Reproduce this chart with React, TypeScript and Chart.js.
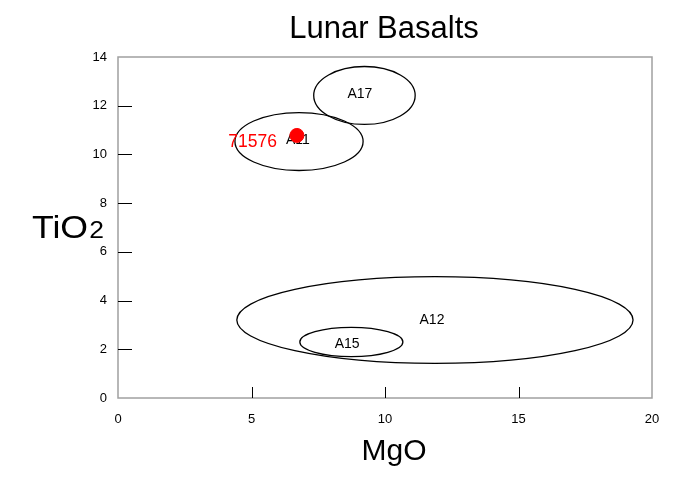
import React, { useEffect, useRef } from "react";
import { Chart, registerables } from "chart.js";

Chart.register(...registerables);

// ---- data ----
const chartTitle = "Lunar Basalts";
const xTitle = "MgO";
const yTitleMain = "TiO";
const yTitleSub = "2";

const xTicksMin = 0;
const xTicksMax = 20;
const xStep = 5;
const yTicksMin = 0;
const yTicksMax = 14;
const yStep = 2;

// fields (ellipses): name, centre MgO, centre TiO2, half-width MgO, half-height TiO2
const fieldNames = ["A17", "A11", "A12", "A15"];
const fieldCx = [9.23, 6.78, 11.87, 8.74];
const fieldCy = [12.42, 10.53, 3.2, 2.3];
const fieldRx = [1.9, 2.4, 7.42, 1.93];
const fieldRy = [1.19, 1.19, 1.78, 0.6];
const fieldLabelX = [9.06, 6.74, 11.76, 8.58];
const fieldLabelY = [12.46, 10.57, 3.2, 2.21];

// sample
const sampleNames = ["71576"];
const sampleMgO = [6.7];
const sampleTiO2 = [10.78];

const FONT = "'Liberation Sans', Arial, Helvetica, sans-serif";

const decorPlugin = {
  id: "decor",
  beforeDatasetsDraw(chart: any) {
    const { ctx, chartArea, scales } = chart;
    const xs = scales.x;
    const ys = scales.y;
    ctx.save();
    // frame
    ctx.strokeStyle = "#a0a0a0";
    ctx.lineWidth = 1.5;
    ctx.strokeRect(chartArea.left, chartArea.top, chartArea.right - chartArea.left, chartArea.bottom - chartArea.top);
    // inward ticks
    ctx.strokeStyle = "#000";
    ctx.lineWidth = 1;
    xs.ticks.forEach((t: any) => {
      if (t.value <= xTicksMin || t.value >= xTicksMax) return;
      const px = Math.round(xs.getPixelForValue(t.value)) + 0.5;
      ctx.beginPath();
      ctx.moveTo(px, chartArea.bottom);
      ctx.lineTo(px, chartArea.bottom - 11);
      ctx.stroke();
    });
    ys.ticks.forEach((t: any) => {
      if (t.value <= yTicksMin || t.value >= yTicksMax) return;
      const py = Math.round(ys.getPixelForValue(t.value)) + 0.5;
      ctx.beginPath();
      ctx.moveTo(chartArea.left, py);
      ctx.lineTo(chartArea.left + 14, py);
      ctx.stroke();
    });
    // ellipses
    ctx.strokeStyle = "#000";
    ctx.lineWidth = 1.3;
    for (let i = 0; i < fieldNames.length; i++) {
      const cx = xs.getPixelForValue(fieldCx[i]);
      const cy = ys.getPixelForValue(fieldCy[i]);
      const rx = Math.abs(xs.getPixelForValue(fieldCx[i] + fieldRx[i]) - cx);
      const ry = Math.abs(ys.getPixelForValue(fieldCy[i] + fieldRy[i]) - cy);
      ctx.beginPath();
      ctx.ellipse(cx, cy, rx, ry, 0, 0, Math.PI * 2);
      ctx.stroke();
    }
    // field labels
    ctx.fillStyle = "#000";
    ctx.font = `14px ${FONT}`;
    ctx.textAlign = "center";
    ctx.textBaseline = "middle";
    for (let i = 0; i < fieldNames.length; i++) {
      ctx.fillText(fieldNames[i], xs.getPixelForValue(fieldLabelX[i]), ys.getPixelForValue(fieldLabelY[i]));
    }
    // sample labels
    ctx.fillStyle = "#ff0000";
    ctx.font = `17.5px ${FONT}`;
    ctx.textAlign = "right";
    ctx.textBaseline = "alphabetic";
    for (let i = 0; i < sampleNames.length; i++) {
      const px = xs.getPixelForValue(sampleMgO[i]);
      const py = ys.getPixelForValue(sampleTiO2[i]);
      ctx.fillText(sampleNames[i], px - 20, py + 12);
    }
    ctx.restore();
  },
  afterDraw(chart: any) {
    const { ctx } = chart;
    ctx.save();
    ctx.fillStyle = "#000";
    ctx.textBaseline = "middle";
    ctx.textAlign = "center";
    ctx.font = `31px ${FONT}`;
    ctx.fillText(chartTitle, 376, 21);
    ctx.font = `30px ${FONT}`;
    ctx.fillText(xTitle, 386, 444);
    // y title, horizontal, slightly widened
    ctx.textAlign = "left";
    ctx.textBaseline = "alphabetic";
    const x0 = 24;
    const base = 230;
    ctx.translate(x0, base);
    ctx.scale(1.15, 1);
    ctx.font = `31px ${FONT}`;
    ctx.fillText(yTitleMain, 0, 0);
    const w = ctx.measureText(yTitleMain).width;
    ctx.font = `23px ${FONT}`;
    ctx.fillText(yTitleSub, w + 1, 0);
    ctx.restore();
  },
};

export default function App() {
  const ref = useRef<HTMLCanvasElement | null>(null);
  useEffect(() => {
    if (!ref.current) return;
    const chart = new Chart(ref.current, {
      type: "scatter",
      data: {
        datasets: [
          {
            label: "samples",
            data: sampleMgO.map((x, i) => ({ x, y: sampleTiO2[i] })),
            backgroundColor: "#ff0000",
            borderColor: "#ff0000",
            pointRadius: 7,
            pointHoverRadius: 7,
          },
        ],
      },
      options: {
        responsive: false,
        animation: false,
        layout: { padding: { left: 0, top: 49, right: 28, bottom: 47 } },
        plugins: {
          legend: { display: false },
          tooltip: { enabled: false },
          title: { display: false },
        },
        scales: {
          x: {
            type: "linear",
            min: xTicksMin,
            max: xTicksMax,
            ticks: { stepSize: xStep, padding: 14, color: "#000", font: { family: FONT, size: 13 }, maxRotation: 0 },
            grid: { display: false, drawTicks: false },
            border: { display: false },
            afterFit: (s: any) => { s.height = 40; },
          },
          y: {
            type: "linear",
            min: yTicksMin,
            max: yTicksMax,
            ticks: { stepSize: yStep, padding: 11, color: "#000", font: { family: FONT, size: 13 } },
            grid: { display: false, drawTicks: false },
            border: { display: false },
            afterFit: (s: any) => { s.width = 110; },
          },
        },
      },
      plugins: [decorPlugin],
    });
    return () => chart.destroy();
  }, []);
  return (
    <div style={{ width: 672, height: 477 }}>
      <canvas ref={ref} width={672} height={477} style={{ display: "block" }} />
    </div>
  );
}
